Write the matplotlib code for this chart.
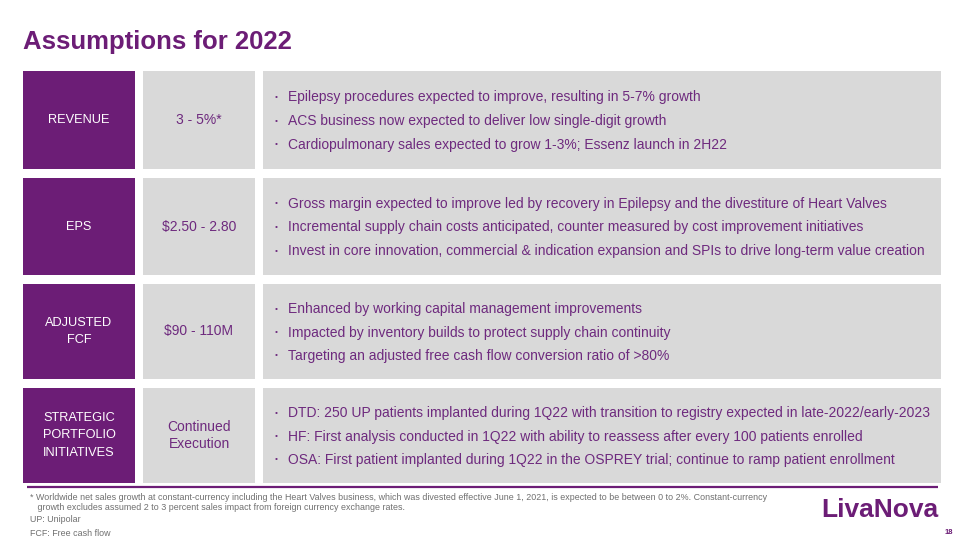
import matplotlib.pyplot as plt
from matplotlib.patches import Rectangle

# ------------------------------------------------------------
# Slide content
title = "Assumptions for 2022"

row_labels = ["REVENUE", "EPS", "ADJUSTED\nFCF", "STRATEGIC\nPORTFOLIO\nINITIATIVES"]
row_values = ["3 - 5%*", "$2.50 - 2.80", "$90 - 110M", "Continued\nExecution"]
row_bullets = [
    ["Epilepsy procedures expected to improve, resulting in 5-7% growth",
     "ACS business now expected to deliver low single-digit growth",
     "Cardiopulmonary sales expected to grow 1-3%; Essenz launch in 2H22"],
    ["Gross margin expected to improve led by recovery in Epilepsy and the divestiture of Heart Valves",
     "Incremental supply chain costs anticipated, counter measured by cost improvement initiatives",
     "Invest in core innovation, commercial & indication expansion and SPIs to drive long-term value creation"],
    ["Enhanced by working capital management improvements",
     "Impacted by inventory builds to protect supply chain continuity",
     "Targeting an adjusted free cash flow conversion ratio of >80%"],
    ["DTD: 250 UP patients implanted during 1Q22 with transition to registry expected in late-2022/early-2023",
     "HF: First analysis conducted in 1Q22 with ability to reassess after every 100 patients enrolled",
     "OSA: First patient implanted during 1Q22 in the OSPREY trial; continue to ramp patient enrollment"],
]

footnotes = [
    "* Worldwide net sales growth at constant-currency including the Heart Valves business, which was divested effective June 1, 2021, is expected to be between 0 to 2%. Constant-currency",
    "   growth excludes assumed 2 to 3 percent sales impact from foreign currency exchange rates.",
    "UP: Unipolar",
    "FCF: Free cash flow",
]
page_number = "18"

# ------------------------------------------------------------
purple = "#6C1D76"
grey = "#D9D9D9"
text_purple = "#6E2A7E"
font = "Liberation Sans"

fig = plt.figure(figsize=(9.6, 5.4), dpi=100)
ax = fig.add_axes([0, 0, 1, 1])
ax.set_xlim(0, 960)
ax.set_ylim(540, 0)
ax.axis("off")

ax.text(23, 42, title, fontsize=18.5, fontweight="bold", color=purple,
        family=font, va="center", ha="left")

row_tops = [71, 178, 284, 388]
row_bottoms = [169, 275, 379, 483]
cols = [(23, 135), (143, 255), (263, 941)]

for i in range(len(row_labels)):
    top, bot = row_tops[i], row_bottoms[i]
    h = bot - top
    mid = (top + bot) / 2
    ax.add_patch(Rectangle((cols[0][0], top), cols[0][1] - cols[0][0], h, color=purple, lw=0))
    ax.add_patch(Rectangle((cols[1][0], top), cols[1][1] - cols[1][0], h, color=grey, lw=0))
    ax.add_patch(Rectangle((cols[2][0], top), cols[2][1] - cols[2][0], h, color=grey, lw=0))
    ax.text((cols[0][0] + cols[0][1]) / 2, mid, row_labels[i], color="white",
            fontsize=9.2, family=font, ha="center", va="center", linespacing=1.6)
    ax.text((cols[1][0] + cols[1][1]) / 2, mid, row_values[i], color=text_purple,
            fontsize=10, family=font, ha="center", va="center", linespacing=1.35)
    for j, line in enumerate(row_bullets[i]):
        y = mid + 1 + (j - 1) * 23.5
        ax.text(276, y, "\u2022", color=text_purple, fontsize=6, family=font,
                ha="center", va="center")
        ax.text(288, y, line, color=text_purple, fontsize=10, family=font,
                ha="left", va="center")

# separator line under the table
ax.plot([27, 938], [486.5, 486.5], color=purple, lw=1.6, solid_capstyle="butt")

# footnotes
foot_y = [497, 508, 520, 533]
for y, line in zip(foot_y, footnotes):
    ax.text(30, y, line, color="#6F6F6F", fontsize=6.4, family=font,
            ha="left", va="center")

# logo + page number
ax.text(938, 510, "LivaNova", color=purple, fontsize=19, fontweight="bold",
        family=font, ha="right", va="center")
ax.text(953, 532, page_number, color=purple, fontsize=5.5, fontweight="bold",
        family=font, ha="right", va="center")

fig.savefig("out.png", dpi=100)
